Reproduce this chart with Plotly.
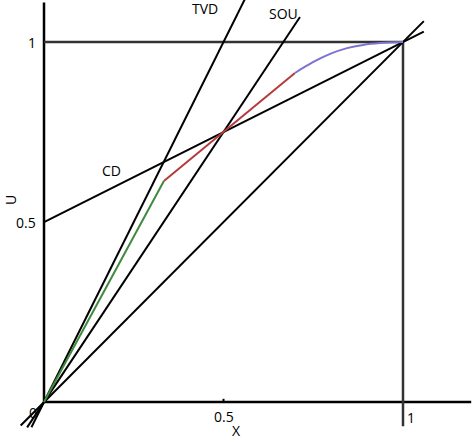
import numpy as np
import plotly.graph_objects as go

# straight reference lines: U = slope * X + intercept, drawn between x_start and x_end
line_names = ["TVD", "SOU", "diag", "CD"]
line_slopes = [2.0, 1.5, 1.0, 0.5]
line_intercepts = [0.0, 0.0, 0.0, 0.5]
line_x_start = [-0.035, -0.047, -0.065, 0.0]
line_x_end = [0.559, 0.713, 1.058, 1.058]

# limiter path pieces
green_x = [0.0, 0.334]
green_u = [0.0, 0.614]
red_x = [0.334, 0.5, 0.699]
red_u = [0.614, 0.75, 0.914]
purple_x = [0.699, 0.749, 0.797, 0.844, 0.889, 0.936, 1.0]
purple_u = [0.914, 0.944, 0.967, 0.983, 0.992, 0.997, 1.0]

# frame lines
box_top_x = [0.0, 1.0]
box_top_u = [1.0, 1.0]
box_right_x = [1.0, 1.0]
box_right_u = [1.0, -0.067]
x_axis_x = [0.0, 1.19]
y_axis_u = [0.0, 1.11]

# ticks and labels
x_tick_vals = [0.5, 1.0]
x_tick_text = ["0.5", "1"]
y_tick_vals = [0.5, 1.0]
y_tick_text = ["0.5", "1"]
curve_labels = ["TVD", "SOU", "CD"]
curve_label_x = [0.448, 0.666, 0.189]
curve_label_u = [1.094, 1.078, 0.644]

FONT = "Open Sans"
fig = go.Figure()

def seg(x, y, color="black", width=2):
    fig.add_trace(go.Scatter(x=x, y=y, mode="lines", showlegend=False, hoverinfo="skip",
                             line=dict(color=color, width=width)))

# axes
seg(x_axis_x, [0, 0], width=2.5)
seg([0, 0], y_axis_u, width=2.5)
seg([0.5, 0.5], [0, 0.009], width=2)

# box to (1, 1)
seg(box_top_x, box_top_u, color="#333333", width=2.5)
seg(box_right_x, box_right_u, color="#333333", width=2.5)

for s, b, x0, x1 in zip(line_slopes, line_intercepts, line_x_start, line_x_end):
    xs = np.array([x0, x1])
    seg(xs, s * xs + b, width=2)

seg(green_x, green_u, color="#3f8a3f", width=2)
seg(red_x, red_u, color="#b53a3c", width=2)
fig.add_trace(go.Scatter(x=purple_x, y=purple_u, mode="lines", showlegend=False, hoverinfo="skip",
                         line=dict(color="#7c72d2", width=2, shape="spline")))

ann = []
for t, x, u in zip(curve_labels, curve_label_x, curve_label_u):
    ann.append(dict(x=x, y=u, text=t))
for v, t in zip(x_tick_vals, x_tick_text):
    if v == 1.0:
        ann.append(dict(x=v + 0.005, y=-0.042, text=t, xanchor="left"))
    else:
        ann.append(dict(x=v, y=-0.039, text=t))
for v, t in zip(y_tick_vals, y_tick_text):
    ann.append(dict(x=-0.018, y=v, text=t, xanchor="right"))
ann.append(dict(x=-0.031, y=-0.028, text="0"))
ann.append(dict(x=0.535, y=-0.079, text="X"))
ann.append(dict(x=-0.095, y=0.561, text="U", textangle=-90))
for a in ann:
    a.update(xref="x", yref="y", showarrow=False, font=dict(family=FONT, size=14, color="black"))
    a.setdefault("xanchor", "center")
    a["yanchor"] = "middle"

fig.update_layout(
    width=472, height=442,
    margin=dict(l=0, r=0, t=0, b=0),
    plot_bgcolor="white", paper_bgcolor="white",
    annotations=ann,
    xaxis=dict(range=[-0.1226, 1.1922], visible=False, fixedrange=True),
    yaxis=dict(range=[-0.111, 1.1167], visible=False, fixedrange=True),
)

fig.write_html("out.html", config={"displayModeBar": False},
               post_script="document.body.style.margin='0';document.body.style.overflow='hidden';")
